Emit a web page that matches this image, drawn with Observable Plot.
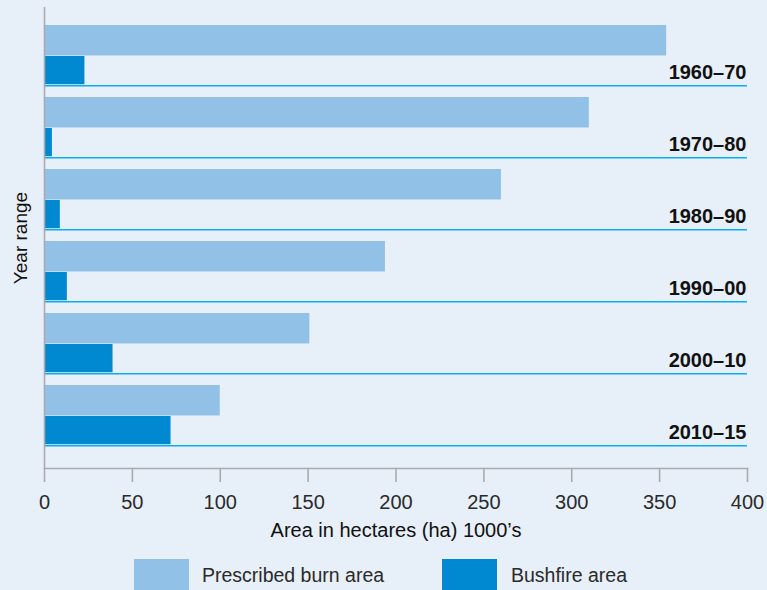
<!DOCTYPE html>
<html>
<head>
<meta charset="utf-8">
<script src="https://cdn.jsdelivr.net/npm/d3@7"></script>
<script src="https://cdn.jsdelivr.net/npm/@observablehq/plot@0.6"></script>
<style>
  html, body { margin: 0; padding: 0; background: #e7eff8; }
  #wrap { position: relative; width: 767px; height: 590px; overflow: hidden; background: #e7eff8; font-family: "Liberation Sans", Arial, sans-serif; }
  #legend { position: absolute; left: 0; top: 548px; width: 767px; height: 42px; }
  .sw { position: absolute; top: 11px; width: 55px; height: 34px; }
  .lt { position: absolute; top: 15px; font-size: 19.5px; color: #2a2a2a; line-height: 24px; white-space: nowrap; }
</style>
</head>
<body>
<div id="wrap"><div id="chart"></div><div id="legend"></div></div>
<script>
const periods = ["1960–70", "1970–80", "1980–90", "1990–00", "2000–10", "2010–15"];
const prescribed = [354, 310, 260, 194, 151, 100];
const bushfire = [23, 4.5, 9, 13, 39, 72];
const xTicks = [0, 50, 100, 150, 200, 250, 300, 350, 400];
const seriesNames = ["Prescribed burn area", "Bushfire area"];
const seriesColors = ["#92c1e8", "#0088d0"];
const xLabel = "Area in hectares (ha) 1000’s";
const yLabel = "Year range";

const rows = periods.map((p, i) => ({period: p, prescribed: prescribed[i], bushfire: bushfire[i]}));

const bandTop = 24, bandBottom = 446.5;
const pad = 0.164;
const step = (bandBottom - bandTop) / (periods.length - pad);
const bw = step * (1 - pad);

const chart = Plot.plot({
  width: 767,
  height: 548,
  marginLeft: 44,
  marginRight: 20,
  marginTop: 7,
  marginBottom: 80,
  style: {background: "#e7eff8", fontFamily: "Liberation Sans, Arial, sans-serif", overflow: "visible"},
  x: {domain: [0, 400], axis: null},
  y: {domain: periods, range: [bandTop, bandBottom], paddingInner: pad, paddingOuter: 0, axis: null},
  marks: [
    Plot.barX(rows, {x: "prescribed", y: "period", fill: seriesColors[0], insetBottom: bw - 31}),
    Plot.barX(rows, {x: "bushfire", y: "period", fill: seriesColors[1], insetTop: 31, insetBottom: 0.8}),
    Plot.ruleY(rows, {y: "period", x1: 0, x2: 400, dy: bw / 2, stroke: "#0aadec", strokeWidth: 1.6}),
    Plot.text(rows, {y: "period", x: 400, text: "period", textAnchor: "end", dy: 17, dx: -1, fontSize: 20, fontWeight: "bold", fill: "#111", fontFamily: "Liberation Sans Narrow, Liberation Sans, Arial, sans-serif"}),
    Plot.ruleX([0], {stroke: "#a8acb1", strokeWidth: 1.6}),
    Plot.frame({anchor: "bottom", stroke: "#a8acb1", strokeWidth: 1.6}),
    Plot.axisX(xTicks, {tickSize: 14, text: null, stroke: "#a8acb1", strokeWidth: 1.6}),
    Plot.axisX(xTicks, {tickSize: 0, tickPadding: 26, fontSize: 20, fill: "#2a2a2a", tickFormat: d => String(d), label: null}),
    Plot.text([xLabel], {frameAnchor: "bottom", textAnchor: "middle", dy: 68, fontSize: 20, fill: "#111"}),
    Plot.text([yLabel], {frameAnchor: "left", textAnchor: "middle", dx: -24, rotate: -90, fontSize: 19, fill: "#111"})
  ]
});
document.getElementById("chart").appendChild(chart);

const legend = document.getElementById("legend");
const swLeft = [134, 442], txLeft = [202, 511];
seriesNames.forEach((name, i) => {
  const s = document.createElement("div");
  s.className = "sw"; s.style.left = swLeft[i] + "px"; s.style.background = seriesColors[i];
  legend.appendChild(s);
  const t = document.createElement("div");
  t.className = "lt"; t.style.left = txLeft[i] + "px"; t.textContent = name;
  legend.appendChild(t);
});
</script>
</body>
</html>
